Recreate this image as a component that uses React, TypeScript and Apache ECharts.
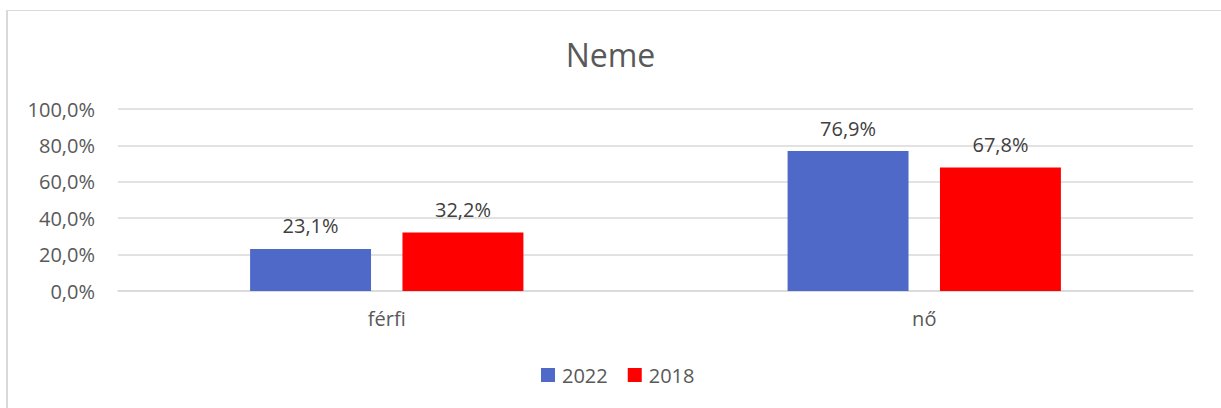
import React, { useEffect, useRef } from "react";
import * as echarts from "echarts";

const categories = ["férfi", "nő"];
const seriesNames = ["2022", "2018"];
const values2022 = [23.1, 76.9];
const values2018 = [32.2, 67.8];
const yTicks = [0, 20, 40, 60, 80, 100];

const FONT = "'Open Sans', 'Noto Sans', sans-serif";
const fmt = (v: number) => v.toFixed(1).replace(".", ",") + "%";

export default function App() {
  const ref = useRef<HTMLDivElement>(null);
  useEffect(() => {
    if (!ref.current) return;
    const chart = echarts.init(ref.current, undefined, { renderer: "svg" });
    const labelStyle = {
      show: true,
      position: "top" as const,
      distance: 13,
      color: "#404040",
      fontSize: 20,
      fontFamily: FONT,
      formatter: (p: any) => fmt(p.value),
    };
    chart.setOption({
      animation: false,
      title: {
        text: "Neme",
        left: "center",
        top: 33,
        textStyle: { fontFamily: FONT, fontSize: 32, fontWeight: "normal", color: "#595959" },
      },
      legend: {
        data: seriesNames,
        top: 365,
        left: 541,
        padding: 0,
        itemWidth: 14,
        itemHeight: 14,
        itemGap: 20,
        itemStyle: { borderWidth: 0 },
        icon: "rect",
        textStyle: { fontFamily: FONT, fontSize: 20, color: "#595959", padding: [0, 0, 0, 2] },
      },
      grid: { left: 118, right: 28, top: 109, bottom: 117, containLabel: false },
      xAxis: {
        type: "category",
        data: categories,
        axisLine: { show: true, lineStyle: { color: "#D9D9D9", width: 1.5 } },
        axisTick: { show: false },
        axisLabel: { fontFamily: FONT, fontSize: 20, color: "#595959", margin: 17 },
      },
      yAxis: {
        type: "value",
        min: yTicks[0],
        max: yTicks[yTicks.length - 1],
        interval: 20,
        axisLine: { show: false },
        axisTick: { show: false },
        splitLine: { lineStyle: { color: "#D9D9D9", width: 1.5 } },
        axisLabel: {
          fontFamily: FONT,
          fontSize: 20,
          color: "#595959",
          margin: 23,
          formatter: (v: number) => fmt(v),
        },
      },
      series: [
        {
          name: seriesNames[0],
          type: "bar",
          data: values2022,
          barWidth: "22.5%",
          barGap: "26%",
          itemStyle: { color: "#4F69C9" },
          label: labelStyle,
        },
        {
          name: seriesNames[1],
          type: "bar",
          data: values2018,
          barWidth: "22.5%",
          barGap: "26%",
          itemStyle: { color: "#FF0000" },
          label: labelStyle,
        },
      ],
    });
    return () => chart.dispose();
  }, []);
  return (
    <div
      style={{
        position: "fixed",
        left: 0,
        top: 0,
        width: 1221,
        height: 408,
        overflow: "hidden",
        background: "#ffffff",
      }}
    >
      <div
        style={{
          position: "absolute",
          left: 6,
          top: 10,
          width: 1400,
          height: 600,
          borderLeft: "2px solid #D9D9D9",
          borderTop: "1px solid #D9D9D9",
          boxSizing: "border-box",
        }}
      />
      <div ref={ref} style={{ position: "absolute", left: 0, top: 0, width: 1221, height: 408 }} />
    </div>
  );
}
